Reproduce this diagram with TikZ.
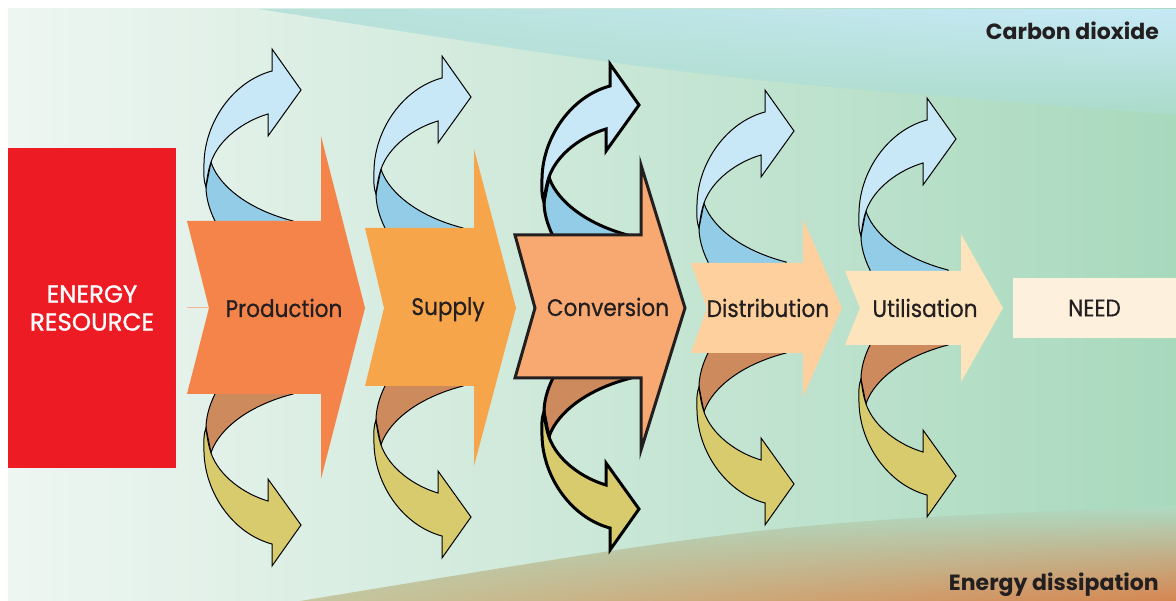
\documentclass[tikz,border=0pt]{standalone}
\usepackage{fontspec}
\setmainfont{Poppins}
\newfontfamily\stagefont{Poppins}[FakeStretch=0.9,FakeBold=0.6]
\newfontfamily\headfont{Poppins}[FakeBold=1.2]
\usepackage{tikz}
\usetikzlibrary{arrows,positioning,shapes,shadings}
\definecolor{resource}{HTML}{ED1C24}
\definecolor{prod}{HTML}{F4844A}
\definecolor{supp}{HTML}{F7A54B}
\definecolor{conv}{HTML}{F8A971}
\definecolor{dist}{HTML}{FDD09D}
\definecolor{util}{HTML}{FEE4BC}
\definecolor{need}{HTML}{FDF1DE}
\definecolor{sky}{HTML}{C8E8F8}
\definecolor{sky2}{HTML}{92CCE6}
\definecolor{heat}{HTML}{D8CB6E}
\definecolor{heat2}{HTML}{CD8A5C}
\definecolor{ink}{HTML}{231F20}
\definecolor{bgleft}{HTML}{EEF6F2}
\definecolor{bgright}{HTML}{A8D9BD}
\definecolor{coa}{HTML}{B7E1D9}
\definecolor{cob}{HTML}{C7E9F7}
\definecolor{coc}{HTML}{B0DDCC}
\definecolor{cod}{HTML}{AADBC8}
\definecolor{dia}{HTML}{B0DCC5}
\definecolor{dib}{HTML}{AEDAC2}
\definecolor{dic}{HTML}{C4C8A0}
\definecolor{did}{HTML}{D68650}
\newcommand{\bigarrow}[9]{%
  \path[#1] (#2,#3) -- (#6,#3) -- (#6,#7) -- (#9,308) -- (#6,#8) -- (#6,#4)
    -- (#2,#4) -- (#5,308) -- cycle;}
\tikzset{
    %Define standard arrow tip
    >=stealth',
    %Define style for the stage labels
    stage/.style={
   	font=\stagefont\fontsize{24}{26}\selectfont,
   	text=ink,
   	inner sep=0pt,
   	anchor=base
   },
    %Define style for the end boxes
   resbox/.style={
   	rectangle,
   	fill=resource,
   	text=white,
   	minimum width=168pt,
   	minimum height=320pt,
   	align=center,
   	font=\headfont\fontsize{24.5}{28}\selectfont
   },
   needbox/.style={
   	rectangle,
   	fill=need,
   	text=ink,
   	minimum width=163pt,
   	minimum height=60pt,
   	font=\stagefont\fontsize{24}{26}\selectfont
   },
   corner/.style={
   	font=\fontsize{22}{26}\selectfont\bfseries,
   	text=ink,
   	inner sep=0pt,
   	anchor=base east
   },
    % Define curved side arrow
   pics/curly/.style 2 args={code={
   	\filldraw[fill=#2] (7,-59) .. controls (12,-42) and (35,-14) .. (89,0)
   	  -- (89,12) -- (13,12) -- (11,0) .. controls (5,-12) and (2,-24) .. (2,-34) -- cycle;
   	\filldraw[fill=#1] (2,-34) .. controls (-1,-42) and (0,-50) .. (0,-58)
   	  .. controls (1,-100) and (30,-140) .. (68,-150) -- (68,-172) -- (97,-131)
   	  -- (64,-85) -- (64,-107) .. controls (40,-100) and (15,-82) .. (7,-59)
   	  .. controls (4,-50) and (3,-42) .. (2,-34) -- cycle;
   }},
   thinrim/.style={line width=1pt},
   boldrim/.style={line width=3pt}
}
\begin{document}
\begin{tikzpicture}[x=1pt,y=-1pt,line join=miter]
		\useasboundingbox (0,0) rectangle (1176,601);
		\shade[left color=bgleft, right color=bgright] (8,9) rectangle (1176,601);
		\shade[upper left=coa, upper right=cob, lower left=coc, lower right=cod]
		  (259,9) .. controls (700,78) .. (1176,115) -- (1176,9) -- cycle;
		\shade[upper left=dia, upper right=dib, lower left=dic, lower right=did]
		  (300,601) .. controls (780,522) .. (1176,506) -- (1176,601) -- cycle;
		\pic[thinrim] at (204,221) {curly={sky}{sky2}};
		\pic[thinrim,yscale=-1] at (204,394) {curly={heat}{heat2}};
		\pic[thinrim] at (374,228) {curly={sky}{sky2}};
		\pic[thinrim,yscale=-1] at (374,386) {curly={heat}{heat2}};
		\pic[boldrim] at (542,236) {curly={sky}{sky2}};
		\pic[boldrim,yscale=-1] at (542,378) {curly={heat}{heat2}};
		\pic[thinrim] at (697,262) {curly={sky}{sky2}};
		\pic[thinrim,yscale=-1] at (697,353) {curly={heat}{heat2}};
		\pic[thinrim] at (859,270) {curly={sky}{sky2}};
		\pic[thinrim,yscale=-1] at (859,345) {curly={heat}{heat2}};
		\bigarrow{fill=prod}{187}{221}{394}{209}{321}{136}{479}{365}
		\bigarrow{fill=supp}{365}{228}{386}{384}{474}{149}{466}{516}
		\bigarrow{fill=conv,draw=ink,boldrim}{515}{235}{378}{535}{641}{165}{450}{685}
		\bigarrow{fill=dist}{691}{263}{353}{707}{803}{219}{397}{842}
		\bigarrow{fill=util}{845}{271}{345}{860}{961}{234}{382}{1003}
		\node[resbox](0) at (92,308){ENERGY\\RESOURCE};
		\coordinate (tail) at (187,308);
		\coordinate (notch) at (209,308);
		\draw[prod!60,thinrim] (tail) -- (notch);
		\node[stage](1) at (284,317){Production};
		\node[stage](2) at (448,315){Supply};
		\node[stage](3) at (608,316){Conversion};
		\node[stage](4) at (768,317){Distribution};
		\node[stage](5) at (925,317){Utilisation};
		\node[needbox](6) at (1094.5,308){NEED};
		\node[corner](7) at (1159,40){Carbon dioxide};
		\node[corner](8) at (1159,590){Energy dissipation};
		\end{tikzpicture}
\end{document}
